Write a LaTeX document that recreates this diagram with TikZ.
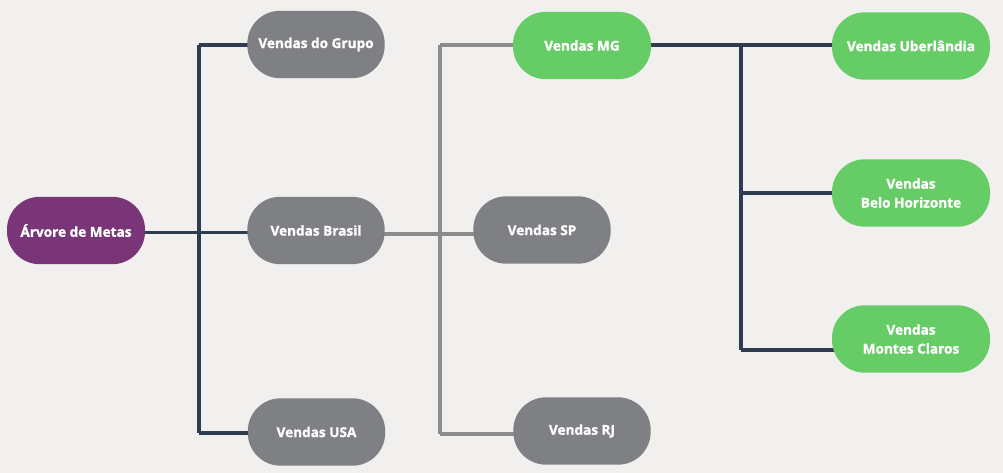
\documentclass[tikz,border=0pt]{standalone}
\usepackage{fontspec}
\setmainfont{Open Sans}[BoldFeatures={FakeBold=1.3}]
\definecolor{bg}{HTML}{F1F0EF}
\definecolor{purp}{HTML}{7A3578}
\definecolor{grayn}{HTML}{7F8083}
\definecolor{greenn}{HTML}{66CC66}
\definecolor{darkl}{HTML}{2F3B4E}
\definecolor{grayl}{HTML}{8C8C8C}
\begin{document}
\begin{tikzpicture}[x=0.75pt,y=-0.75pt,
  pill/.style={rectangle, rounded corners=24.5pt, minimum height=50.5pt, text=white,
    font=\fontsize{10.2}{14.2}\selectfont\bfseries, align=center, inner sep=0pt},
  root/.style={pill, fill=purp, minimum width=103.5pt},
  gnode/.style={pill, fill=grayn, minimum width=103pt},
  vnode/.style={pill, fill=greenn, minimum width=103.5pt},
  vwide/.style={pill, fill=greenn, minimum width=118.5pt},
  dline/.style={draw=darkl, line width=2.3pt},
  gline/.style={draw=grayl, line width=2.3pt}]
\fill[bg] (0,0) rectangle (1003,473);
\useasboundingbox (0,0) rectangle (1003,473);
% coordinates for branches
\coordinate (b1t) at (199,45);
\coordinate (b1b) at (199,433);
\coordinate (b2t) at (440,45);
\coordinate (b2b) at (440,434);
\coordinate (b3t) at (741,45);
\coordinate (b3m) at (741,193);
\coordinate (b3b) at (741,350);
% connectors (drawn first)
\draw[dline] (b1t) -- (b1b);
\draw[gline] (b2t) -- (b2b);
\draw[dline] (b3t) -- (b3b);
\draw[dline] (76,232.5) -- (316,232.5);
\draw[dline] (b1t) -- (316,45);
\draw[dline] (b1b) -- (316,433);
\draw[gline] (316,234) -- (542,234);
\draw[gline] (b2t) -- (582,45);
\draw[gline] (b2b) -- (582,434);
\draw[dline] (582,45) -- (911,45);
\draw[dline] (b3m) -- (911,193);
\draw[dline] (b3b) -- (911,350);
% nodes
\node[root] (arv) at (76,230.5) {Árvore de Metas};
\node[gnode] (grupo) at (316,44.5) {Vendas do Grupo};
\node[gnode] (brasil) at (316,230.5) {Vendas Brasil};
\node[gnode] (usa) at (316.5,432) {Vendas USA};
\node[vnode] (mg) at (582,45.5) {Vendas MG};
\node[gnode] (sp) at (542,230) {Vendas SP};
\node[gnode] (rj) at (582,431) {Vendas RJ};
\node[vwide] (ube) at (911,46) {Vendas Uberlândia};
\node[vwide] (bh) at (911,193) {Vendas\\Belo Horizonte};
\node[vwide] (mc) at (911,339) {Vendas\\Montes Claros};
\end{tikzpicture}
\end{document}
